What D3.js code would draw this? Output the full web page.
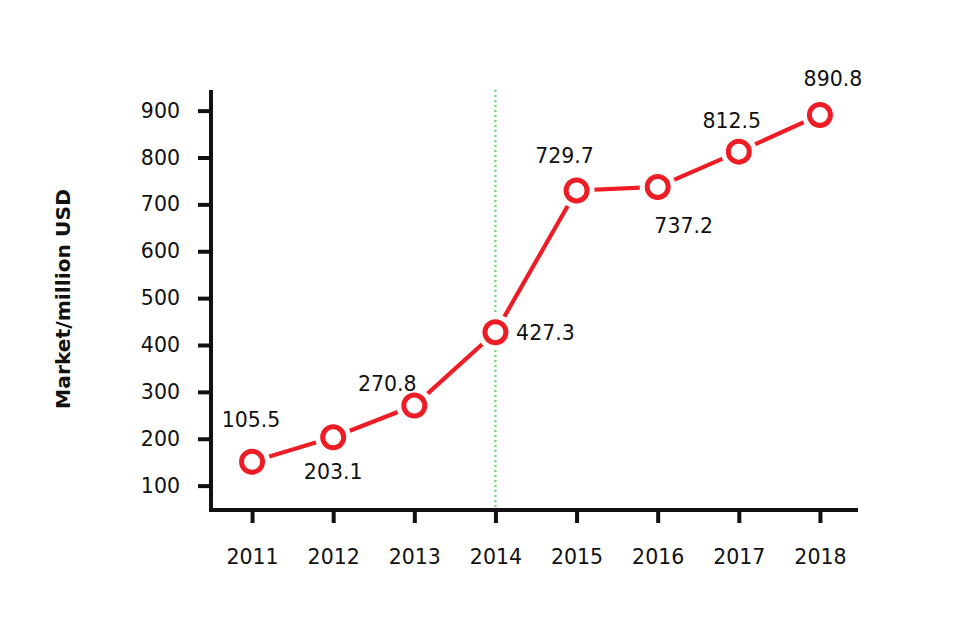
<!DOCTYPE html>
<html>
<head>
<meta charset="utf-8">
<script src="https://cdn.jsdelivr.net/npm/d3@7"></script>
<style>
  html, body { margin: 0; padding: 0; background: #fff; }
  svg { display: block; }
</style>
</head>
<body>
<svg id="chart" width="971" height="617"></svg>
<script>
// ---- data ----
const years = ["2011", "2012", "2013", "2014", "2015", "2016", "2017", "2018"];
// plotted marker values
const values = [151, 203.1, 270.8, 427.3, 729.7, 737.2, 812.5, 890.8];
// value labels printed next to markers
const valueLabels = ["105.5", "203.1", "270.8", "427.3", "729.7", "737.2", "812.5", "890.8"];
const yTicks = [100, 200, 300, 400, 500, 600, 700, 800, 900];
const highlightYear = "2014";
const yTitle = "Market/million USD";

// ---- layout / style ----
const labelOffsets = [[-1, -42], [0, 35], [-27, -22], [50, 1], [-12, -34], [26, 39], [-7, -31], [13, -36]];
const plotL = 211, plotR = 858, plotT = 90, plotB = 510;
const red = "#ee1d25";
const font = "'DejaVu Sans', sans-serif";
const fs = "20.5px";

const svg = d3.select("#chart");

const x = d3.scalePoint().domain(years).range([211.5, 860.5]).padding(0.5);
const y = d3.scaleLinear().domain([48, 944]).range([plotB, plotT]);

// highlight dotted line
svg.append("line")
  .attr("x1", x(highlightYear)).attr("x2", x(highlightYear))
  .attr("y1", plotT).attr("y2", plotB)
  .attr("stroke", "#66d966").attr("stroke-width", 2.2)
  .attr("stroke-dasharray", "2,3");

// axes
const yAxis = svg.append("g").attr("transform", `translate(${plotL},0)`)
  .call(d3.axisLeft(y).tickValues(yTicks).tickSize(13).tickPadding(18).tickSizeOuter(0));
const xAxis = svg.append("g").attr("transform", `translate(0,${plotB})`)
  .call(d3.axisBottom(x).tickSize(13).tickPadding(26).tickSizeOuter(0));

[yAxis, xAxis].forEach(g => {
  g.select(".domain").remove();
  g.selectAll(".tick line").attr("stroke", "#111").attr("stroke-width", 4);
  g.selectAll(".tick text").attr("fill", "#111").style("font-family", font).style("font-size", fs);
});

// axis lines
svg.append("path")
  .attr("d", `M${plotL},${plotT}V${plotB}H${plotR}`)
  .attr("fill", "none").attr("stroke", "#111").attr("stroke-width", 4);

// y title
svg.append("text")
  .attr("transform", `translate(70,299) rotate(-90)`)
  .attr("text-anchor", "middle")
  .style("font-family", font).style("font-size", "20.3px").style("font-weight", "bold")
  .attr("fill", "#111")
  .text(yTitle);

// line
const pts = years.map((yr, i) => ({ yr, v: values[i], lab: valueLabels[i], off: labelOffsets[i] }));
svg.append("path")
  .datum(pts)
  .attr("d", d3.line().x(d => x(d.yr)).y(d => y(d.v)))
  .attr("fill", "none").attr("stroke", red).attr("stroke-width", 4.2);

// halo then markers
svg.selectAll(".halo").data(pts).enter().append("circle")
  .attr("cx", d => x(d.yr)).attr("cy", d => y(d.v)).attr("r", 18).attr("fill", "#fff");
svg.selectAll(".mk").data(pts).enter().append("circle")
  .attr("cx", d => x(d.yr)).attr("cy", d => y(d.v)).attr("r", 10.5)
  .attr("fill", "#fff").attr("stroke", red).attr("stroke-width", 5);

// value labels
svg.selectAll(".lab").data(pts).enter().append("text")
  .attr("x", d => x(d.yr) + d.off[0]).attr("y", d => y(d.v) + d.off[1])
  .attr("text-anchor", "middle").attr("dominant-baseline", "central")
  .style("font-family", font).style("font-size", fs).attr("fill", "#111")
  .text(d => d.lab);
</script>
</body>
</html>
